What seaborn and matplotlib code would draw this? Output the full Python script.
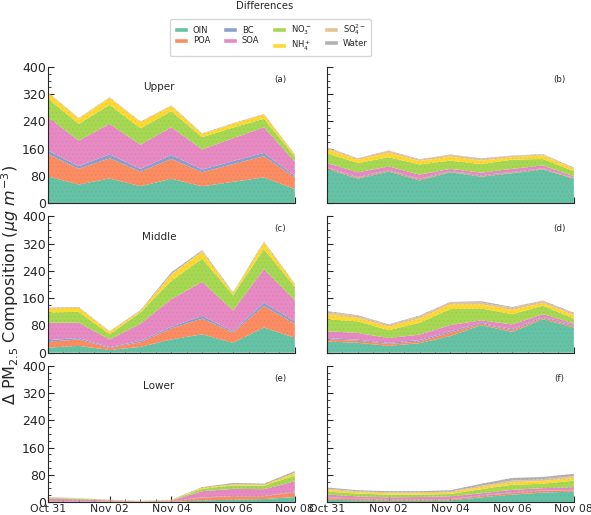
import numpy as np
import pandas as pd
import seaborn as sns
import matplotlib.pyplot as plt
import matplotlib.dates as mdates
from matplotlib.ticker import MultipleLocator, AutoMinorLocator
from matplotlib.patches import Patch

days = pd.date_range('2019-10-31', '2019-11-08', freq='D')
species = ['OIN', 'POA', 'BC', 'SOA', r'NO$_3^-$', r'NH$_4^+$', r'SO$_4^{2-}$', 'Water']

# rows = species (OIN, POA, BC, SOA, NO3, NH4, SO4, Water), cols = days
a_vals = [[79, 55, 73, 50, 72, 50, 63, 76, 42],
          [66, 46, 59, 43, 58, 41, 52, 62, 34],
          [10, 8, 12, 8, 12, 8, 9, 10, 5],
          [98, 75, 89, 71, 81, 59, 67, 75, 41],
          [54, 49, 56, 48, 47, 36, 31, 25, 15],
          [17, 15, 20, 18, 15, 9, 11, 12, 5],
          [1, 1, 1, 1, 1, 1, 1, 1, 1],
          [1, 1, 1, 1, 1, 1, 1, 1, 1]]
b_vals = [[101, 72, 93, 67, 91, 78, 88, 99, 72],
          [3, 3, 3, 3, 2, 2, 2, 2, 2],
          [2, 2, 2, 2, 2, 2, 2, 2, 1],
          [12, 14, 10, 12, 6, 8, 9, 8, 4],
          [29, 27, 27, 30, 24, 25, 27, 19, 15],
          [12, 10, 13, 10, 12, 10, 7, 10, 7],
          [5, 3, 6, 4, 5, 6, 4, 3, 3],
          [1, 1, 1, 1, 1, 1, 1, 1, 1]]
c_vals = [[15, 20, 8, 17, 39, 54, 29, 74, 44],
          [17, 19, 6, 14, 32, 46, 30, 63, 41],
          [5, 4, 2, 4, 5, 8, 4, 10, 7],
          [51, 45, 23, 50, 81, 100, 61, 98, 62],
          [30, 32, 15, 33, 54, 68, 45, 59, 39],
          [11, 12, 7, 4, 18, 20, 5, 19, 8],
          [1, 1, 1, 1, 2, 2, 1, 1, 1],
          [2, 1, 1, 2, 5, 3, 2, 2, 1]]
d_vals = [[33, 29, 20, 28, 49, 81, 61, 98, 74],
          [6, 6, 6, 5, 10, 4, 5, 4, 4],
          [4, 3, 3, 4, 4, 3, 3, 3, 3],
          [20, 20, 14, 16, 18, 7, 14, 8, 5],
          [35, 34, 23, 35, 47, 35, 30, 25, 14],
          [14, 10, 10, 12, 14, 12, 12, 8, 10],
          [8, 6, 5, 7, 5, 5, 7, 5, 5],
          [2, 2, 2, 2, 2, 4, 2, 2, 2]]
e_vals = [[1, 1, 0.5, 0.5, 0.5, 5, 7, 9, 15],
          [2, 1, 1, 0.5, 1, 8, 10, 8, 14],
          [1, 0.5, 0.5, 0, 0.5, 1, 1, 1, 2],
          [7, 5, 3, 1, 2, 18, 21, 20, 30],
          [2, 2, 1, 0.5, 1, 7, 10, 10, 17],
          [1, 1, 0.5, 0.5, 1, 3, 3, 3, 7],
          [0, 0, 0, 0, 0, 0, 0, 0, 1],
          [1, 1, 0.5, 0.5, 1, 2, 4, 3, 5]]
f_vals = [[7, 5, 4, 4, 5, 14, 22, 28, 31],
          [5, 4, 4, 4, 3, 4, 5, 5, 4],
          [2, 2, 1, 1, 1, 2, 2, 1, 1],
          [8, 6, 5, 6, 8, 6, 7, 7, 8],
          [9, 8, 8, 7, 7, 12, 15, 13, 19],
          [5, 4, 4, 4, 4, 6, 7, 8, 8],
          [3, 3, 3, 3, 3, 4, 5, 5, 5],
          [4, 3, 3, 3, 4, 6, 8, 7, 7]]

panels = [('(a)', 'Upper', a_vals), ('(b)', '', b_vals),
          ('(c)', 'Middle', c_vals), ('(d)', '', d_vals),
          ('(e)', 'Lower', e_vals), ('(f)', '', f_vals)]

sns.set_style('ticks')
colors = sns.color_palette('Set2', 8)
plt.rcParams['hatch.linewidth'] = 0.4

fig, axes = plt.subplots(3, 2, figsize=(5.91, 5.15), dpi=100, sharex=True, sharey=True)
fig.subplots_adjust(left=0.081, right=0.971, top=0.870, bottom=0.025, wspace=0.13, hspace=0.096)

for ax, (tag, name, vals) in zip(axes.flat, panels):
    polys = ax.stackplot(days, np.array(vals, dtype=float), colors=colors, linewidth=0)
    for p, c in zip(polys, colors):
        p.set_hatch('....')
        p.set_edgecolor(tuple(np.array(c) * 0.93))
        p.set_linewidth(0)
    ax.set_ylim(0, 400)
    ax.set_xlim(days[0], days[-1])
    ax.yaxis.set_major_locator(MultipleLocator(80))
    ax.yaxis.set_minor_locator(AutoMinorLocator(4))
    ax.xaxis.set_major_locator(mdates.DayLocator(interval=2))
    ax.xaxis.set_minor_locator(mdates.HourLocator(byhour=[0, 12]))
    ax.xaxis.set_major_formatter(mdates.DateFormatter('%b %d'))
    ax.tick_params(which='both', direction='in', pad=1.5)
    ax.tick_params(axis='y', labelsize=9)
    ax.tick_params(axis='x', labelsize=7.8)
    ax.tick_params(which='major', length=4, width=0.8)
    ax.tick_params(which='minor', length=2, width=0.6)
    sns.despine(ax=ax)
    ax.text(0.94, 0.91, tag, transform=ax.transAxes, fontsize=6.3, ha='center', va='center')
    if name:
        ax.text(0.45, 0.85, name, transform=ax.transAxes, fontsize=7.5, ha='center', va='center')

fig.text(0.017, 0.447, r'$\Delta$ PM$_{2.5}$ Composition ($\mu g\ m^{-3}$)',
         rotation=90, ha='center', va='center', fontsize=11.5)
fig.text(0.447, 0.988, 'Differences', ha='center', va='center', fontsize=7.2)

handles = [Patch(facecolor=c, label=s) for c, s in zip(colors, species)]
fig.legend(handles=handles, ncol=4, loc='center', bbox_to_anchor=(0.458, 0.927),
           fontsize=6, frameon=True, handlelength=1.7, handleheight=0.6,
           columnspacing=1.5, labelspacing=0.2, borderpad=0.4, handletextpad=0.6)

fig.savefig('out.png', dpi=100)
